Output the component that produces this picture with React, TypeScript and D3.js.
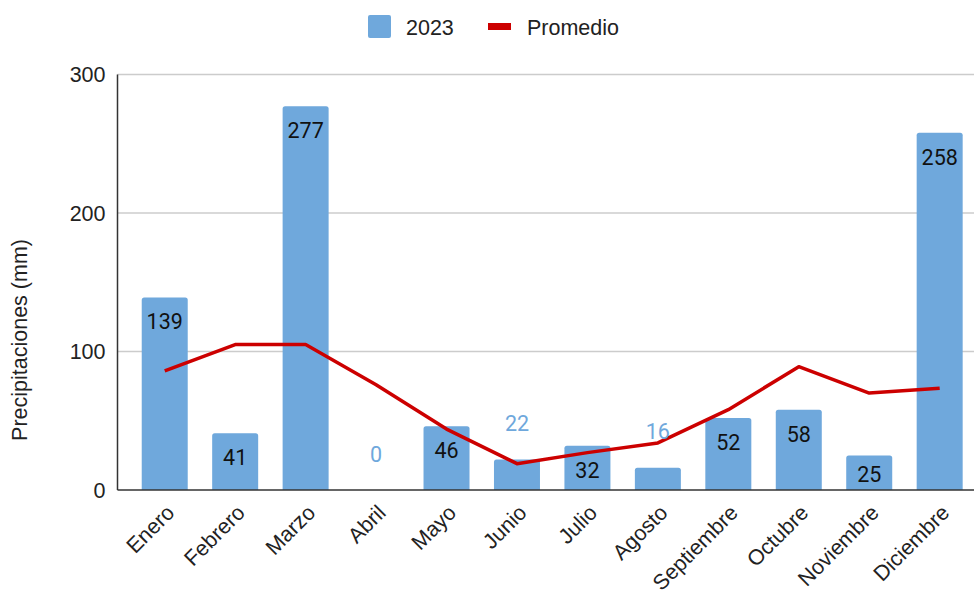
import React from "react";
import * as d3 from "d3";

const months = ["Enero","Febrero","Marzo","Abril","Mayo","Junio","Julio","Agosto","Septiembre","Octubre","Noviembre","Diciembre"];
const values2023 = [139, 41, 277, 0, 46, 22, 32, 16, 52, 58, 25, 258];
const promedio = [86, 105, 105, 76, 44, 19, 27, 34, 58, 89, 70, 73.5];
const yTicks = [0, 100, 200, 300];

const W = 974, H = 593;
const left = 117.5, right = 974, top = 74.5, bottom = 490;
const BAR = "#6fa8dc";
const RED = "#cc0000";
const AX = "Liberation Sans, Arial, sans-serif";

export default function App() {
  const x = d3.scaleBand<string>().domain(months).range([129.5, 129.5 + 12 * 70.45]).paddingInner(0.347).paddingOuter(0.1735);
  const y = d3.scaleLinear().domain([0, 300]).range([bottom, top]);
  const bw = x.bandwidth();
  const line = d3.line<number>().x((_, i) => (x(months[i]) as number) + bw / 2).y((d) => y(d));

  return (
    <svg width={W} height={H} style={{ position: "absolute", left: 0, top: 0, background: "#fff" }}>
      {/* legend */}
      <rect x={368} y={15} width={23} height={23} rx={2} fill={BAR} />
      <text x={406} y={34.5} fontFamily={AX} fontSize={21.5} fill="#222">2023</text>
      <rect x={488} y={23} width={23} height={7} fill={RED} />
      <text x={527} y={34.5} fontFamily={AX} fontSize={21.5} fill="#222">Promedio</text>

      {/* grid */}
      {yTicks.map((t) => (
        <g key={t}>
          {t > 0 && <line x1={left} x2={right} y1={y(t)} y2={y(t)} stroke="#cccccc" strokeWidth={1.5} />}
          <text x={105.5} y={y(t) + 7.5} textAnchor="end" fontFamily={AX} fontSize={21.5} fill="#222">{t}</text>
        </g>
      ))}
      <text transform={`translate(27,340) rotate(-90)`} textAnchor="middle" fontFamily={AX} fontSize={21.5} fill="#222">Precipitaciones (mm)</text>

      {/* bars */}
      {values2023.map((v, i) => {
        const bx = x(months[i]) as number;
        const by = y(v);
        const h = bottom - by;
        if (h <= 0) return null;
        const r = Math.min(2.5, h / 2);
        const p = `M${bx},${bottom}V${by + r}Q${bx},${by} ${bx + r},${by}H${bx + bw - r}Q${bx + bw},${by} ${bx + bw},${by + r}V${bottom}Z`;
        return <path key={i} d={p} fill={BAR} />;
      })}

      {/* axes */}
      <line x1={left} x2={left} y1={top} y2={bottom} stroke="#333" strokeWidth={1.5} />
      <line x1={left} x2={right} y1={bottom} y2={bottom} stroke="#333" strokeWidth={1.5} />

      {/* line */}
      <path d={line(promedio) || ""} fill="none" stroke={RED} strokeWidth={3.5} strokeLinejoin="round" />

      {/* data labels */}
      {values2023.map((v, i) => {
        const cx = (x(months[i]) as number) + bw / 2;
        const by = y(v);
        const h = bottom - by;
        const inside = h > 34;
        const cy = inside ? Math.min(by + 24.5, bottom - 16) : by - 36;
        return (
          <text key={i} x={cx} y={cy + 7.5} textAnchor="middle" fontFamily="Roboto, sans-serif" fontSize={21.5} fill={inside ? "#111" : BAR}>{v}</text>
        );
      })}

      {/* month labels */}
      {months.map((m) => {
        const cx = (x(m) as number) + bw / 2;
        return (
          <text key={m} transform={`translate(${cx + 11},${514}) rotate(-45)`} textAnchor="end" fontFamily={AX} fontSize={21.5} fill="#222">{m}</text>
        );
      })}
    </svg>
  );
}
